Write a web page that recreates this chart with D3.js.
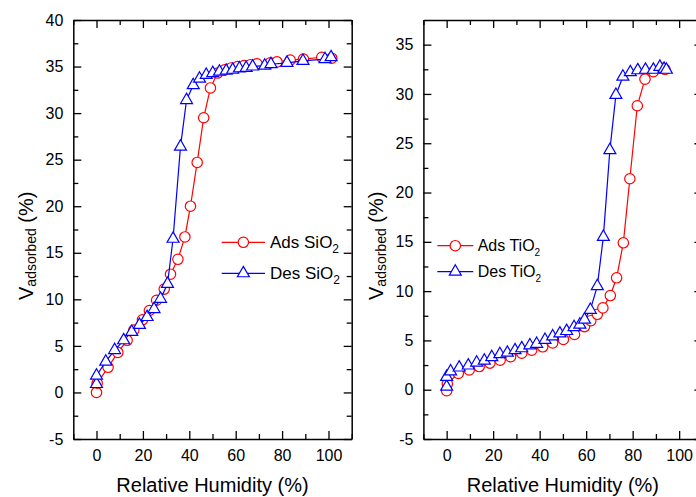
<!DOCTYPE html>
<html>
<head>
<meta charset="utf-8">
<script src="https://cdn.jsdelivr.net/npm/d3@7"></script>
<style>
  body { margin: 0; background: #fff; }
  svg { display: block; font-family: "Liberation Sans", Arial, sans-serif; }
</style>
</head>
<body>
<div id="chart"></div>
<script>

// SiO2 isotherm, adsorption branch
var sio2AdsRH = [0, 0.3, 5, 9.2, 13.2, 16.1, 19.8, 22.8, 25.9, 29.2, 31.9, 35.1, 38.1, 40.5, 43.4, 46.2, 49.1,
  52.2, 55.3, 58, 60.8, 63.6, 66.4, 69.2, 74.9, 77.8, 83.5, 89.2, 97.1, 101.4];
var sio2AdsV = [0, 1.0, 2.7, 4.3, 5.6, 6.7, 7.8, 8.8, 9.9, 11.1, 12.7, 14.3, 16.7, 20.0, 24.7, 29.5, 32.7,
  34.3, 34.65, 34.85, 35.0, 35.1, 35.2, 35.3, 35.4, 35.5, 35.7, 35.8, 36.0, 35.9];

// SiO2 isotherm, desorption branch
var sio2DesRH = [0, 0, 4, 7.8, 11.7, 15.2, 18.5, 21.8, 24.8, 27.6, 30.6, 33, 36.2, 38.8, 41.7, 44.4, 47.3,
  50.1, 53, 55.9, 58.7, 61.6, 64.5, 67.3, 72.5, 75.2, 82.1, 89, 98.5, 101.1];
var sio2DesV = [0.9, 1.8, 3.3, 4.55, 5.6, 6.5, 7.25, 8.1, 8.95, 10.05, 11.65, 16.5, 26.4, 31.4, 33.0, 33.7, 34.1,
  34.3, 34.45, 34.55, 34.65, 34.8, 34.85, 35.0, 35.1, 35.25, 35.4, 35.6, 35.8, 36.0];

// TiO2 isotherm, adsorption branch
var tio2AdsRH = [0, 0.3, 5, 9.7, 14, 18.6, 23, 27.5, 32.3, 36.6, 41.3, 45.6, 50.2, 55, 59.3, 62, 64.8, 67.2,
  70.4, 73.1, 76, 78.8, 82, 85.3, 88.9, 92.5, 93.9];
var tio2AdsV = [-0.1, 0.6, 1.65, 2.0, 2.35, 2.7, 3.0, 3.35, 3.7, 4.0, 4.35, 4.75, 5.1, 5.6, 6.4, 7.0, 7.65, 8.3,
  9.55, 11.35, 14.9, 21.4, 28.8, 31.5, 32.25, 32.6, 32.5];

// TiO2 isotherm, desorption branch
var tio2DesRH = [0, 0, 1.7, 5.4, 9.3, 12.9, 16.2, 19.4, 22.9, 26.1, 29.4, 32.3, 35.8, 38.7, 42.3, 45.6, 48.7,
  51.6, 54.8, 57.3, 59.3, 61.8, 64.8, 67.4, 70.2, 72.8, 75.8, 79, 82.2, 85.5, 88.9, 91.7, 93.5, 94.5];
var tio2DesV = [0.3, 1.3, 1.85, 2.25, 2.45, 2.75, 2.95, 3.3, 3.6, 3.75, 4.0, 4.2, 4.5, 4.65, 5.05, 5.4, 5.7,
  5.95, 6.35, 6.6, 7.1, 8.1, 10.5, 15.5, 24.3, 29.9, 31.75, 32.2, 32.4, 32.45, 32.45, 32.75, 32.55, 32.45];

var xTicks = [0, 20, 40, 60, 80, 100];
var xMinorTicks = [-10, 10, 30, 50, 70, 90, 110];
var sio2YTicks = [-5, 0, 5, 10, 15, 20, 25, 30, 35, 40];
var tio2YTicks = [-5, 0, 5, 10, 15, 20, 25, 30, 35];

var svgWidth = 696;
var svgHeight = 497;

var svg = d3.select("#chart")
  .append("svg")
  .attr("width", svgWidth)
  .attr("height", svgHeight);

function pairs(xs, ys) {
  return xs.map((x, i) => [x, ys[i]]);
}

function minorOf(ticks) {
  var out = [];
  for (var i = 0; i < ticks.length - 1; i++) out.push((ticks[i] + ticks[i + 1]) / 2);
  return out;
}

// plain hyphen for negatives, like the original
var fmt = d => String(d);

function drawPanel(p) {
  var x = d3.scaleLinear().domain([-10, 110]).range([p.left, p.right]);
  var y = d3.scaleLinear().domain(p.yDomain).range([p.bottom, p.top]);

  var g = svg.append("g");

  // minor ticks (all four sides)
  var yMinor = minorOf(p.yTicks).concat([p.yTicks[p.yTicks.length - 1] + 2.5]).filter(v => v < p.yDomain[1]);
  var minorAxes = [
    [d3.axisBottom(x).tickValues(xMinorTicks), `translate(0,${p.bottom})`],
    [d3.axisTop(x).tickValues(xMinorTicks), `translate(0,${p.top})`],
    [d3.axisLeft(y).tickValues(yMinor), `translate(${p.left},0)`],
    [d3.axisRight(y).tickValues(yMinor), `translate(${p.right},0)`]
  ];
  minorAxes.forEach(function(a) {
    g.append("g")
      .attr("transform", a[1])
      .call(a[0].tickSize(-5).tickSizeOuter(0).tickFormat(""))
      .call(s => s.select(".domain").remove());
  });

  // major ticks with labels
  g.append("g")
    .attr("transform", `translate(0,${p.bottom})`)
    .call(d3.axisBottom(x).tickValues(xTicks).tickSize(-8).tickSizeOuter(0).tickPadding(11).tickFormat(fmt));
  g.append("g")
    .attr("transform", `translate(${p.left},0)`)
    .call(d3.axisLeft(y).tickValues(p.yTicks).tickSize(-8).tickSizeOuter(0).tickPadding(10).tickFormat(fmt));
  g.append("g")
    .attr("transform", `translate(0,${p.top})`)
    .call(d3.axisTop(x).tickValues(xTicks).tickSize(-8).tickSizeOuter(0).tickFormat(""));
  g.append("g")
    .attr("transform", `translate(${p.right},0)`)
    .call(d3.axisRight(y).tickValues(p.yTicks).tickSize(-8).tickSizeOuter(0).tickFormat(""));

  g.selectAll(".tick line").attr("stroke", "#000").attr("stroke-width", 1.3);
  g.selectAll(".domain").attr("stroke", "#000").attr("stroke-width", 1.5);
  g.selectAll(".tick text")
    .attr("fill", "#000")
    .style("font-family", "'Liberation Sans', Arial, sans-serif")
    .style("font-size", "16px");

  // x axis title
  g.append("text")
    .attr("x", (p.left + p.right) / 2)
    .attr("y", 492)
    .attr("text-anchor", "middle")
    .style("font-size", "20px")
    .text("Relative Humidity (%)");

  // y axis title: V with subscript "adsorbed"
  var yTitle = g.append("text")
    .attr("transform", `translate(${p.yTitleX},300) rotate(-90)`)
    .style("font-size", "20px");
  yTitle.append("tspan").text("V");
  yTitle.append("tspan").attr("dy", 3).style("font-size", "14px").text("adsorbed");
  yTitle.append("tspan").attr("dy", -3).text(" (%)");

  var line = d3.line().x(d => x(d[0])).y(d => y(d[1]));
  var tri = d3.symbol().type(d3.symbolTriangle).size(62);

  var ads = pairs(p.adsX, p.adsY);
  var des = pairs(p.desX, p.desY);

  g.append("path").datum(ads)
    .attr("d", line).attr("fill", "none").attr("stroke", "#ff0000").attr("stroke-width", 1.2);
  g.selectAll("circle.ads").data(ads).enter().append("circle")
    .attr("class", "ads")
    .attr("cx", d => x(d[0])).attr("cy", d => y(d[1])).attr("r", 5.2)
    .attr("fill", "#fff").attr("stroke", "#ff0000").attr("stroke-width", 1.2);

  g.append("path").datum(des)
    .attr("d", line).attr("fill", "none").attr("stroke", "#0000ff").attr("stroke-width", 1.2);
  g.selectAll("path.des").data(des).enter().append("path")
    .attr("class", "des")
    .attr("d", tri)
    .attr("transform", d => `translate(${x(d[0])},${y(d[1])})`)
    .attr("fill", "#fff").attr("stroke", "#0000ff").attr("stroke-width", 1.2);

  // legend
  var L = p.legend;
  var rows = [
    { label: "Ads " + p.name, color: "#ff0000", mark: "circle", y: L.y0 },
    { label: "Des " + p.name, color: "#0000ff", mark: "tri", y: L.y1 }
  ];
  rows.forEach(function(r) {
    g.append("line")
      .attr("x1", L.x1).attr("x2", L.x2).attr("y1", r.y).attr("y2", r.y)
      .attr("stroke", r.color).attr("stroke-width", 1.2);
    if (r.mark === "circle") {
      g.append("circle").attr("cx", (L.x1 + L.x2) / 2).attr("cy", r.y).attr("r", 5.2)
        .attr("fill", "#fff").attr("stroke", r.color).attr("stroke-width", 1.2);
    } else {
      g.append("path").attr("d", tri)
        .attr("transform", `translate(${(L.x1 + L.x2) / 2},${r.y})`)
        .attr("fill", "#fff").attr("stroke", r.color).attr("stroke-width", 1.2);
    }
    var t = g.append("text")
      .attr("x", L.tx).attr("y", r.y + L.base)
      .style("font-size", L.font + "px");
    t.append("tspan").text(r.label);
    t.append("tspan").attr("dy", L.subDy).style("font-size", L.subFont + "px").text("2");
  });
}

drawPanel({
  left: 73.3, right: 351.7, top: 20, bottom: 439,
  yDomain: [-5, 40], yTicks: sio2YTicks, yTitleX: 33,
  name: "SiO", adsX: sio2AdsRH, adsY: sio2AdsV, desX: sio2DesRH, desY: sio2DesV,
  legend: { x1: 221.7, x2: 265, tx: 270, y0: 242.3, y1: 273.3, base: 6, font: 17, subFont: 12, subDy: 5 }
});

drawPanel({
  left: 423.4, right: 702.4, top: 20, bottom: 439,
  yDomain: [-5, 37.5], yTicks: tio2YTicks, yTitleX: 383,
  name: "TiO", adsX: tio2AdsRH, adsY: tio2AdsV, desX: tio2DesRH, desY: tio2DesV,
  legend: { x1: 437.3, x2: 473.3, tx: 477.7, y0: 245.7, y1: 271.7, base: 5.7, font: 16, subFont: 10, subDy: 5 }
});

</script>
</body>
</html>
